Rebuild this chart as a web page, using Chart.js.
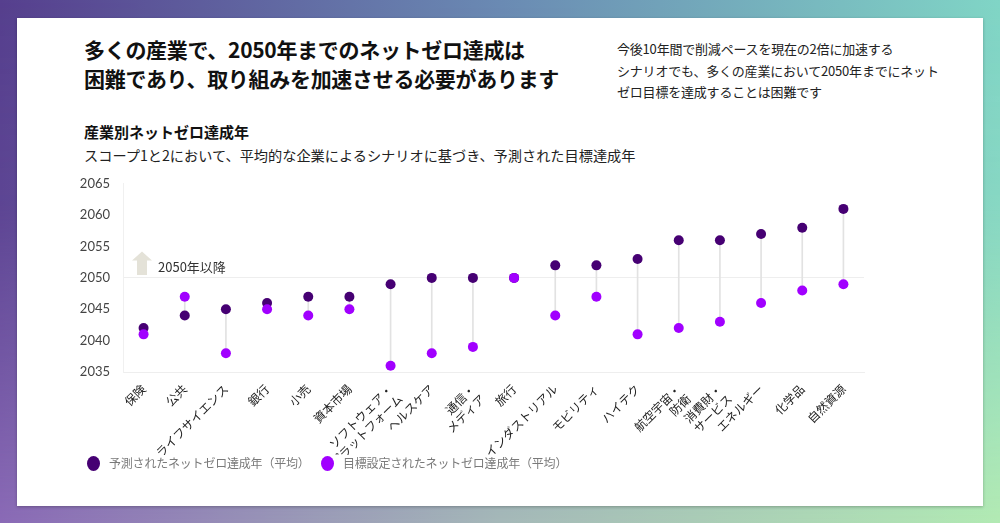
<!DOCTYPE html>
<html lang="ja">
<head>
<meta charset="utf-8">
<script src="https://cdn.jsdelivr.net/npm/chart.js@4"></script>
<style>
  html, body { margin: 0; padding: 0; }
  body {
    width: 1000px; height: 523px; position: relative; overflow: hidden;
    background: linear-gradient(to right, #563f8e 0%, #6a8ab3 50%, #80d5c6 100%);
    font-family: "Noto Sans CJK JP", sans-serif;
  }
  #bgBottom {
    position: absolute; left: 0; top: 0; width: 1000px; height: 523px;
    background: linear-gradient(to right, #8a6ab6 0%, #a5b8b8 50%, #b2eab3 100%);
    -webkit-mask-image: linear-gradient(to bottom, transparent 0%, rgba(0,0,0,0.15) 40%, #000 100%);
    mask-image: linear-gradient(to bottom, transparent 0%, rgba(0,0,0,0.15) 40%, #000 100%);
  }
  #card {
    position: absolute; left: 17px; top: 18px; width: 966px; height: 488px;
    background: #fff; box-shadow: 0 1px 3px rgba(0,0,0,0.25);
  }
  .title {
    position: absolute; left: 84px; top: 35px; font-size: 21px; font-weight: 700;
    line-height: 29px; color: #111; letter-spacing: -0.3px;
  }
  .note {
    position: absolute; left: 617px; top: 38px; font-size: 13px; line-height: 21.5px; color: #222;
    letter-spacing: -0.2px;
  }
  .sub1 { position: absolute; left: 84px; top: 121px; font-size: 15px; font-weight: 700; color: #111; }
  .sub2 { position: absolute; left: 84px; top: 145px; font-size: 14.2px; color: #222; }
  #wrap { position: absolute; left: 70px; top: 163px; width: 810px; height: 292px; }
  .legend { position: absolute; top: 454px; font-size: 12px; color: #7a7a7a; white-space: nowrap; letter-spacing: -0.2px; }
  .legend i {
    display: inline-block; width: 13px; height: 15px; border-radius: 50%;
    vertical-align: -3px; margin-right: 9px;
  }
</style>
</head>
<body>
<div id="bgBottom"></div>
<div id="card"></div>
<div class="title">多くの産業で、2050年までのネットゼロ達成は<br>困難であり、取り組みを加速させる必要があります</div>
<div class="note">今後10年間で削減ペースを現在の2倍に加速する<br>シナリオでも、多くの産業において2050年までにネット<br>ゼロ目標を達成することは困難です</div>
<div class="sub1">産業別ネットゼロ達成年</div>
<div class="sub2">スコープ1と2において、平均的な企業によるシナリオに基づき、予測された目標達成年</div>
<div id="wrap"><canvas id="chart"></canvas></div>
<div class="legend" style="left:87px"><i style="background:#460073"></i>予測されたネットゼロ達成年（平均）</div>
<div class="legend" style="left:321px"><i style="background:#a100ff"></i>目標設定されたネットゼロ達成年（平均）</div>

<script>
// categories (multi-line labels are arrays)
const industries = [
    "保険", "公共", "ライフサイエンス", "銀行", "小売", "資本市場",
    ["ソフトウェア・", "プラットフォーム"], "ヘルスケア", ["通信・", "メディア"], "旅行",
    "インダストリアル", "モビリティ", "ハイテク", ["航空宇宙・", "防衛"],
    ["消費財・", "サービス"], "エネルギー", "化学品", "自然資源"
];

// projected net-zero year (average)
const projectedYear = [2042, 2044, 2045, 2046, 2047, 2047, 2049, 2050, 2050, 2050,
                       2052, 2052, 2053, 2056, 2056, 2057, 2058, 2061];

// target net-zero year (average)
const targetYear = [2041, 2047, 2038, 2045, 2044, 2045, 2036, 2038, 2039, 2050,
                    2044, 2047, 2041, 2042, 2043, 2046, 2048, 2049];

const yTicks = [2035, 2040, 2045, 2050, 2055, 2060, 2065];
const thresholdYear = 2050;
const thresholdLabel = "2050年以降";

// connector ranges between the two points
const gaps = projectedYear.map((p, i) => [Math.min(p, targetYear[i]), Math.max(p, targetYear[i])]);

// arrow + "2050年以降" note drawn relative to the scales
const thresholdNote = {
    id: "thresholdNote",
    afterDatasetsDraw(chart) {
        const { ctx, scales: { x, y } } = chart;
        const base = y.getPixelForValue(thresholdYear);
        const top = y.getPixelForValue(thresholdYear + 4.2);
        const cx = x.left + 19;
        ctx.save();
        ctx.fillStyle = "#e4e2d8";
        ctx.beginPath();
        ctx.moveTo(cx - 5, base - 3);
        ctx.lineTo(cx + 5, base - 3);
        ctx.lineTo(cx + 5, top + 9);
        ctx.lineTo(cx + 10, top + 9);
        ctx.lineTo(cx, top);
        ctx.lineTo(cx - 10, top + 9);
        ctx.lineTo(cx - 5, top + 9);
        ctx.closePath();
        ctx.fill();
        ctx.fillStyle = "#333";
        ctx.font = "13px 'Noto Sans CJK JP', sans-serif";
        ctx.textBaseline = "middle";
        ctx.fillText(thresholdLabel, cx + 16, base - 11);
        ctx.restore();
    }
};

new Chart(document.getElementById("chart"), {
    type: "line",
    data: {
        labels: industries,
        datasets: [
            {
                type: "line",
                label: "目標設定されたネットゼロ達成年（平均）",
                data: targetYear,
                showLine: false,
                pointRadius: 5,
                pointBackgroundColor: "#a100ff",
                pointBorderWidth: 0,
                order: 0
            },
            {
                type: "line",
                label: "予測されたネットゼロ達成年（平均）",
                data: projectedYear,
                showLine: false,
                pointRadius: 5,
                pointBackgroundColor: "#460073",
                pointBorderWidth: 0,
                order: 1
            },
            {
                type: "bar",
                label: "gap",
                data: gaps,
                backgroundColor: "#e2e2e2",
                barThickness: 1,
                order: 2
            }
        ]
    },
    options: {
        responsive: true,
        maintainAspectRatio: false,
        animation: false,
        layout: { padding: { top: 0, right: 16, left: 0, bottom: 0 } },
        plugins: {
            legend: { display: false },
            tooltip: { enabled: false }
        },
        scales: {
            x: {
                type: "category",
                offset: true,
                grid: { display: false },
                border: { display: true, color: "#eeeeee" },
                ticks: {
                    minRotation: 45,
                    maxRotation: 45,
                    autoSkip: false,
                    padding: 2,
                    color: "#222",
                    font: { family: "'Noto Sans CJK JP', sans-serif", size: 12, lineHeight: 1.15 }
                },
                afterFit: s => { s.height = 83; }
            },
            y: {
                min: 2035,
                max: 2065,
                afterBuildTicks: s => { s.ticks = yTicks.map(v => ({ value: v })); },
                grid: {
                    drawTicks: false,
                    color: c => c.tick && c.tick.value === thresholdYear ? "#eeeeee" : "rgba(0,0,0,0)"
                },
                border: { display: true, color: "#f0f0f0" },
                ticks: {
                    padding: 13,
                    color: "#444",
                    font: { family: "Lato, sans-serif", size: 13 },
                    callback: v => String(v)
                },
                afterFit: s => { s.width = 53; }
            }
        }
    },
    plugins: [thresholdNote]
});
</script>
</body>
</html>
